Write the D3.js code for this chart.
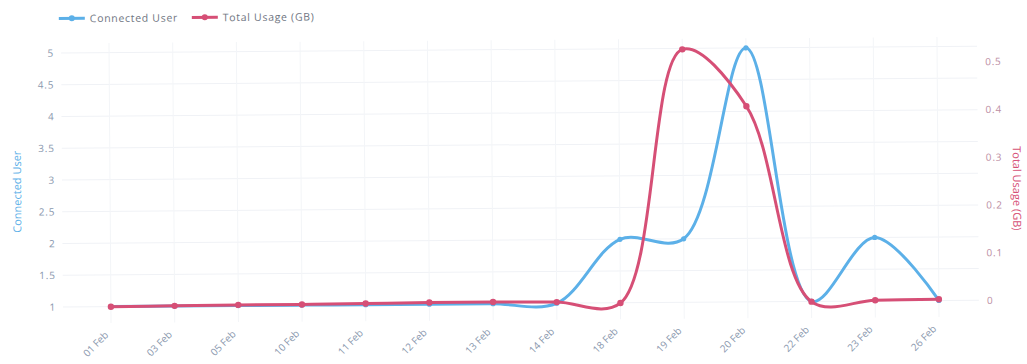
<!DOCTYPE html>
<html>
<head>
<meta charset="utf-8">
<script src="https://cdn.jsdelivr.net/npm/d3@7"></script>
<style>
  html, body { margin: 0; padding: 0; background: #ffffff; }
  svg { display: block; font-family: "Open Sans", "DejaVu Sans", sans-serif; }
</style>
</head>
<body>
<svg id="chart" width="1027" height="364"></svg>
<script>
// ---- data ----
const categories = ["01 Feb","03 Feb","05 Feb","10 Feb","11 Feb","12 Feb","13 Feb","14 Feb","18 Feb","19 Feb","20 Feb","22 Feb","23 Feb","26 Feb"];
const connectedUser = [1, 1, 1, 1, 1, 1, 1, 1, 2, 2, 5, 1, 2, 1];
const totalUsage = [0.0, 0.001, 0.002, 0.002, 0.003, 0.004, 0.004, 0.003, 0.0, 0.53, 0.41, 0.0, 0.002, 0.003];
const leftTicks = [1, 1.5, 2, 2.5, 3, 3.5, 4, 4.5, 5];
const rightTicks = [0, 0.1, 0.2, 0.3, 0.4, 0.5];
const seriesNames = ["Connected User", "Total Usage (GB)"];

// ---- style ----
const blue = "#5cb0e8";
const red = "#d64f76";
const plot = { left: 62, right: 978, top: 40, bottom: 320 };

const svg = d3.select("#chart");
const root = svg.append("g").attr("transform", "rotate(-0.42, 524, 180)");

const x = d3.scalePoint().domain(categories).range([110, 938]);
const yL = d3.scaleLinear().domain([0.74, 5.15]).range([plot.bottom, plot.top]);
const yR = d3.scaleLinear().domain([-0.034, 0.552]).range([plot.bottom, plot.top]);

// grid
const grid = root.append("g");
grid.selectAll("line.h").data(leftTicks).join("line")
  .attr("x1", plot.left).attr("x2", plot.right)
  .attr("y1", d => yL(d)).attr("y2", d => yL(d))
  .attr("stroke", "#f0f2f6").attr("stroke-width", 1);
grid.selectAll("line.v").data(categories).join("line")
  .attr("x1", d => x(d)).attr("x2", d => x(d))
  .attr("y1", plot.top).attr("y2", plot.bottom)
  .attr("stroke", "#f3f5f8").attr("stroke-width", 1);

// left axis
const axL = d3.axisLeft(yL).tickValues(leftTicks).tickSize(0).tickPadding(0).tickFormat(d3.format("~g"));
const gL = root.append("g").attr("transform", "translate(55,0)").call(axL);
gL.select(".domain").remove();
gL.selectAll("text").attr("fill", "#8a98ae").attr("font-size", 10).attr("letter-spacing", "0.8px")
  .attr("font-family", "'Open Sans', sans-serif");

// right axis
const axR = d3.axisRight(yR).tickValues(rightTicks).tickSize(0).tickPadding(0).tickFormat(d3.format("~g"));
const gR = root.append("g").attr("transform", "translate(986,0)").call(axR);
gR.select(".domain").remove();
gR.selectAll("text").attr("fill", "#bc8ea3").attr("font-size", 10).attr("letter-spacing", "0.8px")
  .attr("font-family", "'Open Sans', sans-serif");

// x axis
const axX = d3.axisBottom(x).tickSize(0).tickPadding(0);
const gX = root.append("g").attr("transform", "translate(0,328)").call(axX);
gX.select(".domain").remove();
gX.selectAll("text")
  .attr("fill", "#8a98ae").attr("font-size", 10)
  .attr("font-family", "'Open Sans', sans-serif")
  .attr("text-anchor", "end")
  .attr("dy", "0.35em")
  .attr("transform", "translate(-5,2) rotate(-45)");

// axis titles
root.append("text")
  .attr("transform", `translate(21,${(plot.top + plot.bottom) / 2 + 8}) rotate(-90)`)
  .attr("text-anchor", "middle").attr("fill", blue).attr("font-size", 11)
  .text(seriesNames[0]);
root.append("text")
  .attr("transform", `translate(1013,${(plot.top + plot.bottom) / 2 + 12}) rotate(90)`)
  .attr("text-anchor", "middle").attr("fill", red).attr("font-size", 11)
  .text(seriesNames[1]);

// lines
const lineL = d3.line().x((d, i) => x(categories[i])).y(d => yL(d)).curve(d3.curveCatmullRom.alpha(0.5));
const lineR = d3.line().x((d, i) => x(categories[i])).y(d => yR(d)).curve(d3.curveCatmullRom.alpha(0.5));

root.append("path").datum(connectedUser).attr("d", lineL)
  .attr("fill", "none").attr("stroke", blue).attr("stroke-width", 3).attr("stroke-linejoin", "round");
root.append("g").selectAll("circle").data(connectedUser).join("circle")
  .attr("cx", (d, i) => x(categories[i])).attr("cy", d => yL(d)).attr("r", 2.6).attr("fill", blue);

root.append("path").datum(totalUsage).attr("d", lineR)
  .attr("fill", "none").attr("stroke", red).attr("stroke-width", 3).attr("stroke-linejoin", "round");
root.append("g").selectAll("circle").data(totalUsage).join("circle")
  .attr("cx", (d, i) => x(categories[i])).attr("cy", d => yR(d)).attr("r", 3.2).attr("fill", red);

// legend
const legend = root.append("g").attr("transform", "translate(0,15)");
const legItems = [
  { name: seriesNames[0], color: blue, x0: 60 },
  { name: seriesNames[1], color: red, x0: 193 }
];
const li = legend.selectAll("g").data(legItems).join("g").attr("transform", d => `translate(${d.x0},0)`);
li.append("line").attr("x1", 0).attr("x2", 26).attr("y1", 0).attr("y2", 0)
  .attr("stroke", d => d.color).attr("stroke-width", 3);
li.append("circle").attr("cx", 13).attr("cy", 0).attr("r", 3).attr("fill", d => d.color);
li.append("text").attr("x", 31).attr("y", 4).attr("font-size", 10.5).attr("letter-spacing", "0.7px")
  .attr("fill", "#707682").text(d => d.name);
</script>
</body>
</html>
